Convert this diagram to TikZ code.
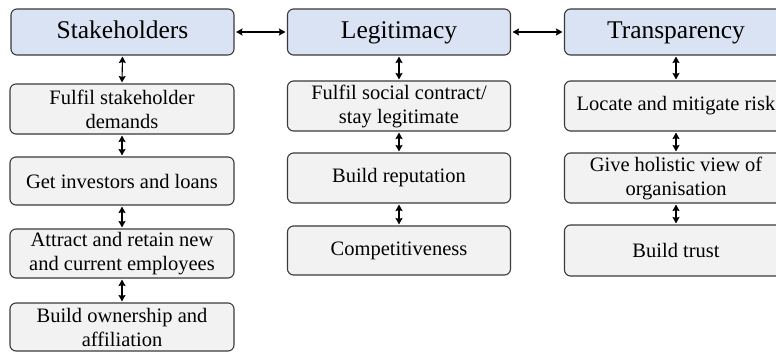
\documentclass[tikz,border=0pt]{standalone}
\usepackage{fontspec}
\setmainfont{Liberation Serif}
\usetikzlibrary{arrows.meta}
\definecolor{hdrfill}{HTML}{DAE3F3}
\definecolor{boxfill}{HTML}{F2F2F2}
\definecolor{edge}{HTML}{3A3A3A}
\tikzset{
  x=1pt, y=-1pt,
  hdr/.style={draw=edge, line width=1.1pt, fill=hdrfill, rounded corners=6pt,
    minimum width=223pt, minimum height=46pt, inner sep=0pt,
    text height=18pt, text depth=5pt,
    font=\fontsize{25.5}{30}\selectfont},
  item/.style={draw=edge, line width=1.1pt, fill=boxfill, rounded corners=6pt,
    minimum width=224pt, inner sep=0pt, align=center,
    font=\fontsize{20.5}{24}\selectfont},
  link/.style={line width=1.1pt, black, {Stealth[length=6.5pt,width=7pt,inset=1pt]}-{Stealth[length=6.5pt,width=7pt,inset=1pt]}}
}
\begin{document}
\begin{tikzpicture}
\useasboundingbox (0,0) rectangle (776,352);
\clip (0,0) rectangle (776,352);
\fill[white] (0,0) rectangle (776,352);
% headers
\node[hdr] (h1) at (122.5,32) {Stakeholders};
\node[hdr] (h2) at (399,32) {Legitimacy};
\node[hdr] (h3) at (676,32) {Transparency};
% column 1
\node[item, minimum height=50pt] (a1) at (122,109) {Fulfil stakeholder\\demands};
\node[item, minimum height=48pt] (a2) at (122,181) {Get investors and loans};
\node[item, minimum height=49pt] (a3) at (122,253.5) {Attract and retain new\\and current employees};
\node[item, minimum height=48pt] (a4) at (122,327) {Build ownership and\\affiliation};
% column 2
\node[item, minimum width=223pt, minimum height=50pt] (b1) at (399,106) {Fulfil social contract/\\stay legitimate};
\node[item, minimum width=223pt, minimum height=50pt] (b2) at (399,178) {Build reputation};
\node[item, minimum width=223pt, minimum height=49pt] (b3) at (399,250.5) {Competitiveness};
% column 3
\node[item, minimum width=223pt, minimum height=50pt] (c1) at (676,106) {Locate and mitigate risk};
\node[item, minimum width=223pt, minimum height=50pt] (c2) at (676,178) {Give holistic view of\\organisation};
\node[item, minimum width=223pt, minimum height=51pt] (c3) at (676,250.5) {Build trust};
% horizontal links
\draw[link] ([xshift=1.5pt]h1.east) -- ([xshift=-1.5pt]h2.west);
\draw[link] ([xshift=1.5pt]h2.east) -- ([xshift=-1.5pt]h3.west);
% vertical links
\draw[link] ([yshift=-1pt]h1.south) -- ([yshift=1pt]a1.north);
\draw[link] ([yshift=-1pt]a1.south) -- ([yshift=1pt]a2.north);
\draw[link] ([yshift=-1pt]a2.south) -- ([yshift=1pt]a3.north);
\draw[link] ([yshift=-1pt]a3.south) -- ([yshift=1pt]a4.north);
\draw[link] ([yshift=-1pt]h2.south) -- ([yshift=1pt]b1.north);
\draw[link] ([yshift=-1pt]b1.south) -- ([yshift=1pt]b2.north);
\draw[link] ([yshift=-1pt]b2.south) -- ([yshift=1pt]b3.north);
\draw[link] ([yshift=-1pt]h3.south) -- ([yshift=1pt]c1.north);
\draw[link] ([yshift=-1pt]c1.south) -- ([yshift=1pt]c2.north);
\draw[link] ([yshift=-1pt]c2.south) -- ([yshift=1pt]c3.north);
\end{tikzpicture}
\end{document}
